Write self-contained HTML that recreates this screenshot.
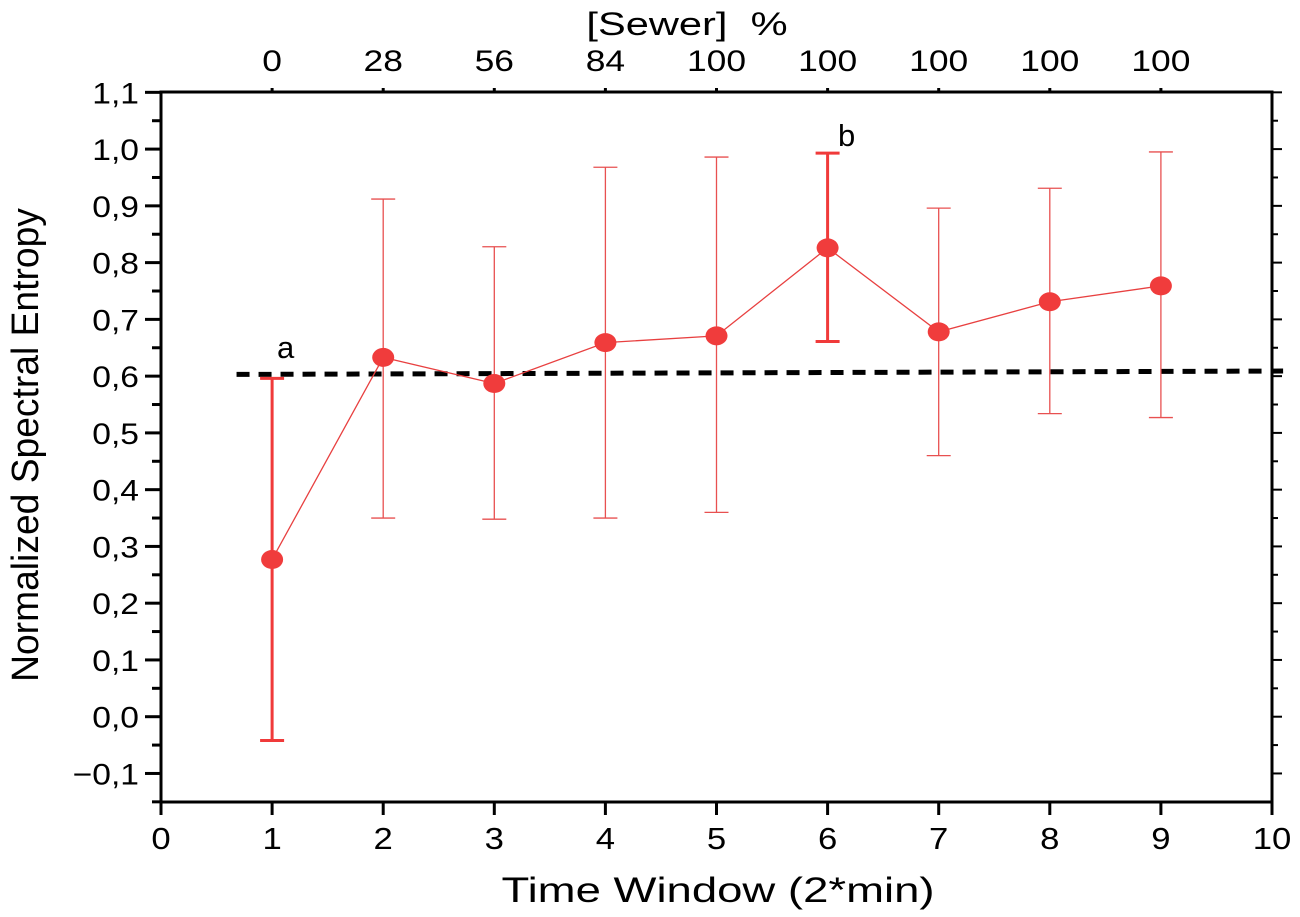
<!DOCTYPE html>
<html><head><meta charset="utf-8"><style>
body{margin:0;background:#fff}
svg{display:block;font-family:"Liberation Sans",Arial,sans-serif}
</style></head><body>
<svg id="chart" width="1300" height="917" viewBox="0 0 1300 917">
<g id="g"></g>
</svg>
<script>
const xValues=[1,2,3,4,5,6,7,8,9];
const meanValues=[0.277,0.633,0.587,0.659,0.671,0.826,0.678,0.731,0.759];
const upperValues=[0.596,0.912,0.828,0.968,0.986,0.993,0.896,0.931,0.995];
const lowerValues=[-0.042,0.350,0.348,0.350,0.360,0.661,0.460,0.534,0.527];
const thickBars=[true,false,false,false,false,true,false,false,false];
const topLabels=['0','28','56','84','100','100','100','100','100'];
const xTicks=[0,1,2,3,4,5,6,7,8,9,10];
const yTicks=[-0.1,0,0.1,0.2,0.3,0.4,0.5,0.6,0.7,0.8,0.9,1.0,1.1];
const thresholdValue=0.603;

const L=161,R=1272,T=92,B=802;
const X=v=>L+(v-0)/10*(R-L);
const Y=v=>716.7-v*567.6;
const NS='http://www.w3.org/2000/svg';
const g=document.getElementById('g');
function el(t,a,txt){const e=document.createElementNS(NS,t);for(const k in a)e.setAttribute(k,a[k]);if(txt!==undefined)e.textContent=txt;g.appendChild(e);return e;}
const fmt=v=>(v<0?'\u2212':'')+Math.abs(v).toFixed(1).replace('.',',');

let e=el('rect',{x:L,y:T,width:R-L,height:B-T,fill:'none',stroke:'#000','stroke-width':3});



yTicks.forEach((v,i)=>{
 const y=Y(v);
 let t=el('line',{x1:L-16,x2:L,y1:y,y2:y,stroke:'#000','stroke-width':3});
 
 
 let r=el('line',{x1:R,x2:R+10,y1:y,y2:y,stroke:'#000','stroke-width':2});
 
 
 let lb=el('text',{x:0,y:0,'font-size':30,'text-anchor':'end',transform:`translate(${L-22},${y+11}) scale(1.12,1)`},fmt(v));
 
 
 if(i<yTicks.length-1){const ym=Y(v+0.05);
  let m=el('line',{x1:L-9,x2:L,y1:ym,y2:ym,stroke:'#000','stroke-width':3});
  
  
  let mr=el('line',{x1:R,x2:R+6,y1:ym,y2:ym,stroke:'#000','stroke-width':2});
  
  }
});
{const ym=Y(-0.15);let m=el('line',{x1:L-9,x2:L,y1:ym,y2:ym,stroke:'#000','stroke-width':3});

}
xTicks.forEach(v=>{
 const x=X(v);
 let t=el('line',{x1:x,x2:x,y1:B,y2:B+13,stroke:'#000','stroke-width':3});
 
 
 let lb=el('text',{x:0,y:0,'font-size':31,'text-anchor':'middle',transform:`translate(${x},${B+47}) scale(1.12,1)`},String(v));
 
 
});
xValues.forEach((v,i)=>{
 const x=X(v);
 let t=el('line',{x1:x,x2:x,y1:T-4,y2:T,stroke:'#000','stroke-width':3});
 
 
 let lb=el('text',{x:0,y:0,'font-size':30,'text-anchor':'middle',transform:`translate(${x},${T-21}) scale(1.18,1)`},topLabels[i]);
 
 
});
e=el('text',{x:0,y:0,'font-size':32,'text-anchor':'middle',transform:`translate(687,${T-57}) scale(1.3,1)`},'[Sewer]\u00A0\u00A0%');


e=el('text',{x:0,y:0,'font-size':35,'text-anchor':'middle',transform:'translate(718,902) scale(1.3,1)'},'Time Window (2*min)');


e=el('text',{x:0,y:0,'font-size':38,'text-anchor':'middle',transform:'translate(38,445) rotate(-90) scale(0.98,1)'},'Normalized Spectral Entropy');



e=el('line',{x1:X(0.68),x2:X(10.1),y1:Y(thresholdValue),y2:Y(thresholdValue+0.006),stroke:'#000','stroke-width':5,'stroke-dasharray':'13 9'});



xValues.forEach((v,i)=>{
 const x=X(v),w=thickBars[i]?3:1.3,c=thickBars[i]?'#f03a3a':'#e85050';
 let b=el('path',{d:`M${x},${Y(lowerValues[i])}V${Y(upperValues[i])}M${x-12},${Y(upperValues[i])}h24M${x-12},${Y(lowerValues[i])}h24`,stroke:c,'stroke-width':w,fill:'none'});
 
 
});
e=el('polyline',{points:xValues.map((v,i)=>X(v)+','+Y(meanValues[i])).join(' '),fill:'none',stroke:'#e84040','stroke-width':1.3});


xValues.forEach((v,i)=>{
 let p=el('ellipse',{cx:X(v),cy:Y(meanValues[i]),rx:11,ry:9.5,fill:'#f03c3c'});
 
 
});
e=el('text',{x:277,y:358,'font-size':31},'a');


e=el('text',{x:838,y:146,'font-size':31},'b');


</script>
</body></html>
